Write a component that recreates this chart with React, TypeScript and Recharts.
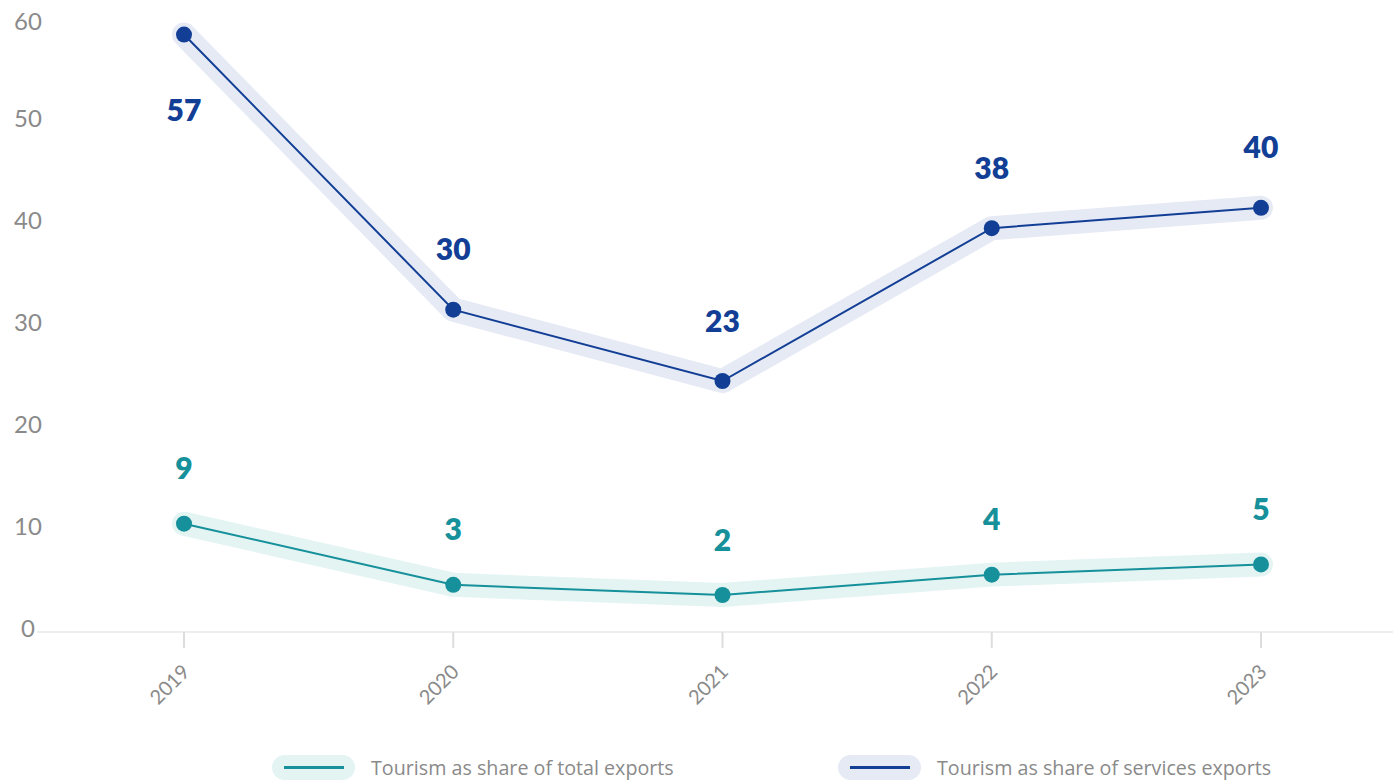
import React from "react";
import { LineChart, Line, XAxis, YAxis } from "recharts";

const years = ["2019", "2020", "2021", "2022", "2023"];
const servicesShare = [57, 30, 23, 38, 40];
const totalShare = [9, 3, 2, 4, 5];
const yTicks = [0, 10, 20, 30, 40, 50, 60];

const NAVY = "#123f95";
const NAVY_HALO = "#e6eaf5";
const TEAL = "#16909a";
const TEAL_HALO = "#e3f4f3";
const GREY = "#8a8a8a";
const FONT = "Lato, 'Open Sans', sans-serif";

const data = years.map((year, i) => ({
  year,
  services: servicesShare[i],
  total: totalShare[i],
}));

const YTick = ({ y, payload }: any) => (
  <text x={28} y={y + 13} dy="0.35em" textAnchor="middle" fill={GREY} fontSize={24} fontFamily={FONT}>
    {payload.value}
  </text>
);

const XTick = ({ x, y, payload }: any) => {
  const ax = x + 7;
  const ay = y + 23;
  return (
    <text
      x={ax}
      y={ay}
      textAnchor="end"
      fill={GREY}
      fontSize={20}
      fontFamily={FONT}
      transform={`rotate(-45 ${ax} ${ay})`}
    >
      {payload.value}
    </text>
  );
};

// labels sit above the point, except the first services one which goes below
const makeLabel = (color: string, gap: number, belowFirst: boolean) => (props: any) => {
  const { x, y, value, index } = props;
  const below = belowFirst && index === 0;
  return (
    <text
      x={x}
      y={below ? y + 76 : y - gap}
      dy="0.35em"
      textAnchor="middle"
      fill={color}
      fontSize={30}
      fontWeight={800}
      fontFamily={FONT}
    >
      {value}
    </text>
  );
};

const LegendItem = ({ color, halo, label, width }: any) => (
  <div style={{ display: "flex", alignItems: "center", width }}>
    <div
      style={{
        width: 83,
        height: 25,
        borderRadius: 13,
        background: halo,
        display: "flex",
        alignItems: "center",
        justifyContent: "center",
      }}
    >
      <div style={{ width: 60, height: 3, background: color }} />
    </div>
    <span style={{ marginLeft: 16, color: GREY, fontSize: 19.7, fontFamily: "'Open Sans', sans-serif" }}>{label}</span>
  </div>
);

export default function App() {
  return (
    <div style={{ position: "absolute", left: 0, top: 0, width: 1393, height: 780, background: "#fff" }}>
      <LineChart width={1393} height={780} data={data} margin={{ top: 4, right: 0, bottom: 58, left: 0 }}>
        <XAxis
          dataKey="year"
          height={90}
          padding={{ left: 147, right: 132 }}
          axisLine={{ stroke: "#eeeeee", strokeWidth: 2 }}
          tickLine={{ stroke: "#dddddd", strokeWidth: 2 }}
          tickSize={16}
          tick={<XTick />}
          interval={0}
        />
        <YAxis
          width={37}
          type="number"
          domain={[-1.63, 60]}
          ticks={yTicks}
          axisLine={false}
          tickLine={false}
          tick={<YTick />}
          allowDataOverflow
        />
        <Line
          dataKey="services"
          stroke={NAVY_HALO}
          strokeWidth={24}
          strokeLinejoin="round"
          strokeLinecap="round"
          dot={false}
          activeDot={false}
          isAnimationActive={false}
        />
        <Line
          dataKey="total"
          stroke={TEAL_HALO}
          strokeWidth={24}
          strokeLinejoin="round"
          strokeLinecap="round"
          dot={false}
          activeDot={false}
          isAnimationActive={false}
        />
        <Line
          dataKey="services"
          stroke={NAVY}
          strokeWidth={2}
          dot={{ r: 8, fill: NAVY, stroke: NAVY, strokeWidth: 0 }}
          activeDot={false}
          label={makeLabel(NAVY, 60, true)}
          isAnimationActive={false}
        />
        <Line
          dataKey="total"
          stroke={TEAL}
          strokeWidth={2}
          dot={{ r: 8, fill: TEAL, stroke: TEAL, strokeWidth: 0 }}
          activeDot={false}
          label={makeLabel(TEAL, 55, false)}
          isAnimationActive={false}
        />
      </LineChart>
      <div style={{ position: "absolute", left: 272, top: 754, display: "flex" }}>
        <LegendItem color={TEAL} halo={TEAL_HALO} label="Tourism as share of total exports" width={566} />
        <LegendItem color={NAVY} halo={NAVY_HALO} label="Tourism as share of services exports" />
      </div>
    </div>
  );
}
